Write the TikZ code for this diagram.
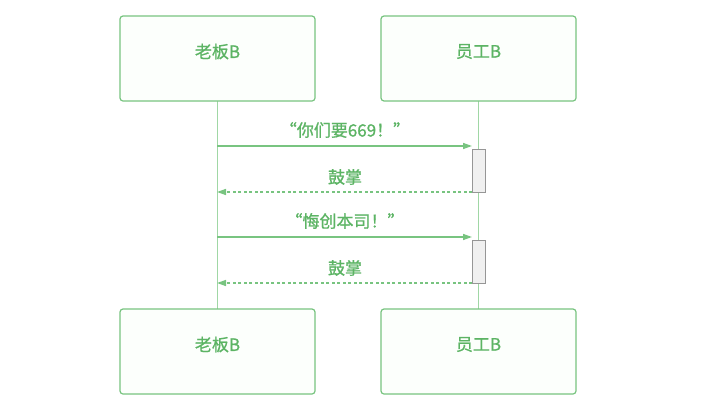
\documentclass[tikz,border=0pt]{standalone}
\usepackage{fontspec}
\setmainfont{Noto Sans CJK SC}
\newfontfamily\medfont{Noto Sans CJK SC}[FakeBold=0.9]
\usetikzlibrary{arrows.meta}
\definecolor{gtext}{RGB}{92,180,100}
\definecolor{gline}{RGB}{120,196,128}
\definecolor{gfill}{RGB}{252,255,252}
\definecolor{life}{RGB}{160,215,165}
\definecolor{actfill}{RGB}{240,240,240}
\definecolor{actline}{RGB}{150,150,150}
\begin{document}
\begin{tikzpicture}[x=1pt,y=-1pt,
  actor/.style={draw=gline,line width=1.2pt,fill=gfill,rounded corners=3pt,minimum width=195pt,minimum height=85pt,inner sep=0pt},
  albl/.style={text=gtext,font=\medfont\fontsize{17}{20}\selectfont,inner sep=0pt},
  msg/.style={draw=gline,line width=1.4pt,-{Triangle[length=9pt,width=6pt]}},
  ret/.style={draw=gline,line width=1.4pt,dash pattern=on 3pt off 2.5pt,-{Triangle[length=9pt,width=6pt]}},
  lbl/.style={text=gtext,font=\medfont\fontsize{17}{20}\selectfont,inner sep=0pt},
  act/.style={draw=actline,line width=1pt,fill=actfill,minimum width=13pt,inner sep=0pt},
  lifeline/.style={draw=life,line width=0.8pt}]
\useasboundingbox (0,0) rectangle (720,413);
\fill[white] (0,0) rectangle (720,413);
\coordinate (lt) at (217,101);
\coordinate (lb) at (217,309);
\coordinate (rt) at (478,101);
\coordinate (rb) at (478,309);
\draw[lifeline] (lt) -- (lb);
\draw[lifeline] (rt) -- (rb);
\node[actor] (bossT) at (217.5,58.5) {};
\node[actor] (empT) at (478.5,58.5) {};
\node[actor] (bossB) at (217.5,351.5) {};
\node[actor] (empB) at (478.5,351.5) {};
\node[albl] (tbossT) at ([yshift=7pt]bossT.center) {老板B};
\node[albl] (tempT) at ([yshift=7pt]empT.center) {员工B};
\node[albl] (tbossB) at ([yshift=7pt]bossB.center) {老板B};
\node[albl] (tempB) at ([yshift=7pt]empB.center) {员工B};
% activations
\node[act,minimum height=43pt] (a1) at (478.5,170.5) {};
\node[act,minimum height=43pt] (a2) at (478.5,261.5) {};
% messages
\coordinate (m1s) at (217,146);
\coordinate (m1e) at (472,146);
\draw[msg] (m1s) -- (m1e);
\node[lbl] (l1) at (345,130) {“你们要669！”};
\coordinate (r1s) at (472,192);
\coordinate (r1e) at (217,192);
\draw[ret] (r1s) -- (r1e);
\node[lbl] (l2) at (345,177) {鼓掌};
\coordinate (m2s) at (217,237);
\coordinate (m2e) at (472,237);
\draw[msg] (m2s) -- (m2e);
\node[lbl] (l3) at (345,221) {“悔创本司！”};
\coordinate (r2s) at (472,283);
\coordinate (r2e) at (217,283);
\draw[ret] (r2s) -- (r2e);
\node[lbl] (l4) at (345,268) {鼓掌};
\end{tikzpicture}
\end{document}
